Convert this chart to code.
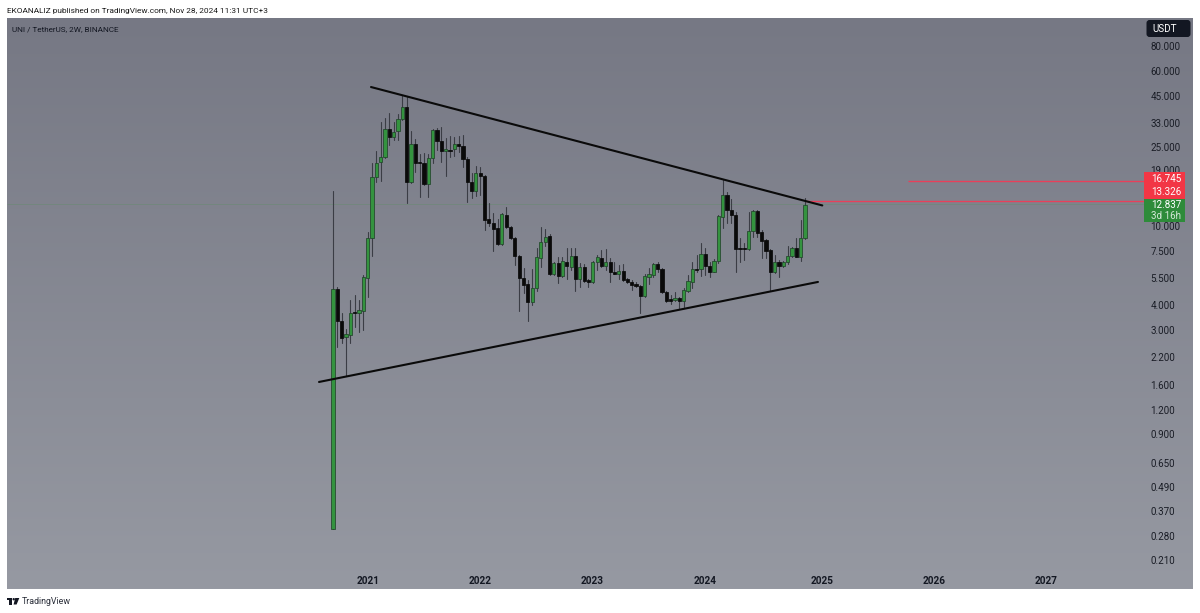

import numpy as np, pandas as pd, seaborn as sns
import matplotlib; matplotlib.use("Agg")
import matplotlib.pyplot as plt
from matplotlib.patches import FancyBboxPatch, Rectangle, Polygon, Circle
from matplotlib.transforms import IdentityTransform
from matplotlib.ticker import NullLocator

opens=[0.302,4.81,3.35,2.76,2.85,3.69,3.65,3.76,5.46,8.67,17.7,20.9,22.1,30.7,27.9,29.9,34.3,39.4,16.6,25.8,20.9,20.7,16.2,22,30.3,26.8,23.7,24.1,24.2,25.7,25.2,21.7,16.6,14.9,18.4,17.8,10.8,10.4,9.77,8.12,11.4,9.92,8.74,7.1,5.48,5.1,4.17,4.89,6.94,8.28,8.91,5.72,6.5,5.63,6.62,6.25,7.07,5.44,6.25,5.34,5.22,6.6,6.94,6.32,6.6,5.86,5.77,5.92,5.42,5.24,5.1,5.02,4.45,5.55,5.68,6.42,6.11,4.67,4.29,4.24,4.34,4.2,4.74,5.24,6.06,6.06,7.21,6.3,5.9,6.67,11.1,14.3,12,11.4,7.73,7.73,7.64,9.4,11.9,9.37,8.47,7.55,5.86,6.6,6.3,6.6,7.04,7.76,7.02,8.67]
closes=[4.81,3.35,2.73,2.86,3.67,3.65,3.77,5.53,8.71,17.7,20.8,22.1,30.8,27.9,29.7,34.3,39.4,16.7,25.8,20.8,20.7,16.2,22,30.3,26.8,23.8,24.2,23.8,25.7,25.3,21.7,16.6,15,18.4,17.8,10.7,10.4,9.7,8.12,11.5,9.85,8.67,7.07,5.46,5.06,4.17,4.9,6.96,8.34,8.84,5.74,6.5,5.63,6.67,6.3,7.07,5.44,6.25,5.3,5.26,6.6,6.96,6.32,6.57,5.86,5.77,5.95,5.38,5.22,5.08,4.98,4.45,5.61,5.72,6.42,6.11,4.65,4.19,4.22,4.34,4.2,4.77,5.28,6.06,6.02,7.21,6.3,5.9,6.7,11.2,14.3,12,11.4,7.7,7.64,7.64,9.4,11.9,9.26,8.41,7.52,5.86,6.6,6.3,6.62,7.07,7.76,7.02,8.74,12.8]
lows=[.302,2.48,2.58,1.77,2.58,3.1,2.93,3.01,4.39,7.1,16.7,16.9,21.9,25.5,27,27,34,13,16.4,18.7,14,16.1,14,20.6,24.1,21,17.8,22.3,22.4,23.6,19.7,13.2,13.8,14.1,14.3,9.55,10,7.52,8.03,8.03,9.73,8.61,6.37,3.75,4.59,3.35,4.01,4.74,6.25,7.94,5.68,5.68,5.16,5.57,5.4,6.02,4.74,4.96,5.26,4.96,5.2,6.02,6.25,6.02,5.22,5.74,5.4,5.32,5.16,4.77,4.92,3.65,4.42,5.12,5.57,5.9,4.59,4.14,4.06,4.19,3.86,3.94,4.68,4.87,5.9,5.61,5.68,5.57,5.86,6.55,9.73,10.3,10.3,5.9,6.62,6.75,7.58,8.77,8.77,6.88,6.88,4.74,5.79,5.57,6.25,6.45,6.96,6.96,6.67,8.61]
highs=[15,4.96,3.65,3.03,4.25,4.51,4.25,5.68,9.37,20.6,23.8,33.4,35,36.8,33.4,36.3,45.1,44.2,30.1,27.2,23,23.3,23,30.7,31.1,31.5,27.5,28.3,28.1,28.3,28.5,22.1,18.5,20.1,19.8,18,13,11.6,10.9,11.6,12.5,10,8.84,7.15,6.13,5.36,6.06,7.73,9.85,9.62,9.12,6.62,6.96,7.02,7.73,7.79,7.73,6.55,6.45,5.4,6.7,7.15,7.58,7.64,6.94,6.62,6.37,6.45,5.46,5.36,5.26,5.06,5.74,6.13,6.5,6.62,6.18,4.74,4.51,4.68,4.42,4.87,5.68,6.62,7.15,8.25,7.73,6.62,6.8,11.4,17,14.8,13.6,11.8,8.67,8.19,11.8,12,12,9.55,8.57,7.64,7.15,6.75,6.67,7.94,7.82,8.67,10.7,13.8]

price_ticks=[80,60,45,33,25,19,10,7.5,5.5,4,3,2.2,1.6,1.2,0.9,0.65,0.49,0.37,0.28,0.21]
price_labels=["80.000","60.000","45.000","33.000","25.000","19.000","10.000","7.500","5.500","4.000","3.000","2.200","1.600","1.200","0.900","0.650","0.490","0.370","0.280","0.210"]
year_pos=[8.1,33.9,59.8,85.9,113.0,138.9,164.7]
year_labels=["2021","2022","2023","2024","2025","2026","2027"]
upper_t=[8.78,113.0]; upper_p=[49.8,12.68]
lower_t=[-3.23,112.0]; lower_p=[1.65,5.24]
level_a=16.745; level_b=13.326; last_price=12.837

FONT=['Roboto','DejaVu Sans']
sns.set_theme(style="white")
plt.rcParams['font.family']=FONT
W,H=1200,613
fig=plt.figure(figsize=(W/100,H/100),dpi=100,facecolor="white")
L,R,T,B=7,1193,18,589
pos=[L/W,1-B/H,(R-L)/W,(B-T)/H]
bg=fig.add_axes(pos,zorder=0); bg.axis("off")
c0=np.array([0x76,0x78,0x84]); c1=np.array([0x96,0x99,0xa2])
grad=(c0+(c1-c0)*np.linspace(0,1,256)[:,None])[:,None,:]/255
bg.imshow(grad,aspect="auto")
ax=fig.add_axes(pos,zorder=1); ax.patch.set_alpha(0)
ax.set_yscale("log")

n=len(opens); idx=np.arange(n)
wick=pd.DataFrame({"t":np.r_[idx,idx],"price":lows+highs,"candle":np.r_[idx,idx]})
sns.lineplot(data=wick,x="t",y="price",units="candle",estimator=None,sort=False,
             color="#3b3d45",lw=0.8,ax=ax,legend=False,zorder=2)
o=np.array(opens); c=np.array(closes); up=c>=o
for mask,fc,ec in ((up,"#34933f","#22452b"),(~up,"#0a0a0a","#0a0a0a")):
    ax.bar(idx[mask],np.abs(c-o)[mask],bottom=np.minimum(c,o)[mask],width=0.74,
           color=fc,edgecolor=ec,linewidth=0.55,zorder=3)

sns.lineplot(x=upper_t,y=upper_p,color="#0a0a0a",lw=1.5,ax=ax,legend=False,zorder=4)
sns.lineplot(x=lower_t,y=lower_p,color="#0a0a0a",lw=1.5,ax=ax,legend=False,zorder=4)

xl=((L-333)/4.33,(R-333)/4.33)
boxL=(1144-333)/4.33
ax.hlines(last_price,xl[0],boxL,color="#5f8f68",lw=0.6,alpha=0.45,zorder=1)
ax.hlines(level_a,(908-333)/4.33,boxL,color="#e8405a",lw=1.0,zorder=1)
ax.hlines(level_b,109,boxL,color="#e8405a",lw=1.0,zorder=1)

ax.set_xlim(*xl)
ax.set_ylim(80*2**(-(B-46)/60),80*2**(-(T-46)/60))
ax.yaxis.tick_right()
ax.set_yticks(price_ticks); ax.set_yticklabels(price_labels)
ax.yaxis.set_minor_locator(NullLocator())
ax.set_xticks(year_pos); ax.set_xticklabels(year_labels,fontweight="bold")
ax.tick_params(axis="y",length=0,pad=-30.5,labelsize=7.1,labelcolor="#1a1d26")
ax.tick_params(axis="x",length=0,pad=-9.4,labelsize=7.2,labelcolor="#131722")
ax.set_xlabel(""); ax.set_ylabel("")
for s in ax.spines.values(): s.set_visible(False)

def rect(x0,y0,x1,y1,col):
    fig.add_artist(Rectangle((x0,H-y1),x1-x0,y1-y0,transform=IdentityTransform(),facecolor=col,edgecolor="none",zorder=5))
def txt(x,y,s,**k):
    k.setdefault("va","center"); k.setdefault("ha","left")
    fig.text(x/W,1-y/H,s,zorder=6,**k)
rect(1144,172,1184.5,199,"#f23645")
rect(1144,199,1184.5,222,"#2e8b3a")
fig.add_artist(FancyBboxPatch((1148,H-35.5),41,14,boxstyle="round,pad=1.5,rounding_size=3",
                              transform=IdentityTransform(),facecolor="#131722",edgecolor="none",zorder=5))
txt(1152,28.5,"USDT",color="white",fontsize=7.1)
txt(1151,179,"16.745",color="white",fontsize=7.1)
txt(1151,192,"13.326",color="white",fontsize=7.1)
txt(1151,205,"12.837",color="white",fontsize=7.1)
txt(1151,216,"3d 16h",color="#d5e8d8",fontsize=7.1)
txt(7,11,"EKOANALIZ published on TradingView.com, Nov 28, 2024 11:31 UTC+3",color="#1a1a1a",fontsize=5.95)
txt(12,29,"UNI / TetherUS, 2W, BINANCE",color="#131722",fontsize=5.9)
txt(22,602,"TradingView",color="#2a2e39",fontsize=6.4)
rect(7,598,12.2,600.4,"#131722"); rect(9.2,598,12.2,604.5,"#131722")
fig.add_artist(Circle((13.7,H-599.2),1.2,transform=IdentityTransform(),facecolor="#131722",edgecolor="none",zorder=5))
fig.add_artist(Polygon([(15.2,H-598),(19.3,H-598),(16.6,H-604.5),(13.6,H-604.5)],closed=True,transform=IdentityTransform(),facecolor="#131722",edgecolor="none",zorder=5))
fig.savefig("out.png",dpi=100)
